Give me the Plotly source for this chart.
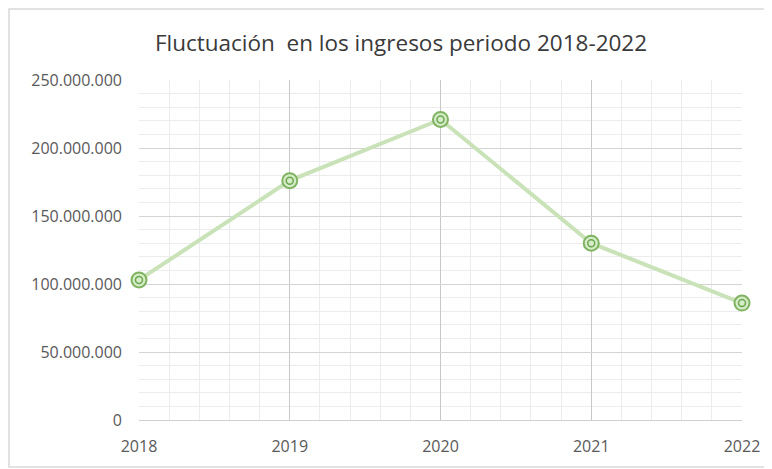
import plotly.graph_objects as go

years = [2018, 2019, 2020, 2021, 2022]
ingresos = [103000000, 176000000, 221000000, 130000000, 86000000]
y_ticks = [0, 50000000, 100000000, 150000000, 200000000, 250000000]
title_text = "Fluctuación  en los ingresos periodo 2018-2022"

# the page body adds an 8px offset; size the figure to fit inside the window
OFF = 8
W, H = 772 - OFF, 469 - OFF
ml, mr, mt, mb = 139 - OFF, 30, 80 - OFF, 49
pw, ph = W - ml - mr, H - mt - mb

fig = go.Figure()
fig.add_trace(go.Scatter(
    x=years, y=ingresos, mode="lines+markers",
    line=dict(color="#c9e2b8", width=4),
    marker=dict(symbol="circle", size=15, color="#d6ebc8",
                line=dict(color="#7fb35f", width=2)),
    hoverinfo="skip", showlegend=False, cliponaxis=False,
))
fig.add_trace(go.Scatter(
    x=years, y=ingresos, mode="markers",
    marker=dict(symbol="circle-open", size=7, color="#6aa84f",
                line=dict(color="#6aa84f", width=1.5)),
    hoverinfo="skip", showlegend=False, cliponaxis=False,
))

fig.update_layout(
    width=W, height=H,
    margin=dict(l=ml, r=mr, t=mt, b=mb),
    paper_bgcolor="white", plot_bgcolor="white",
    separators=",.",
    font=dict(family="Open Sans, Liberation Sans, sans-serif", color="#595959", size=16),
    title=dict(text=title_text, x=(401 - OFF) / W, xanchor="center",
               y=1 - (43 - OFF) / H, yanchor="middle",
               font=dict(size=22.5, color="#3a3a3a", family="Open Sans, sans-serif")),
    xaxis=dict(
        range=[2018, 2022], tickmode="array", tickvals=years,
        ticktext=[str(y) for y in years],
        showgrid=True, gridcolor="#c8c8c8", gridwidth=1,
        minor=dict(dtick=0.2, tick0=2018, showgrid=True, gridcolor="#ececec", gridwidth=1),
        showline=True, linecolor="#d0d0d0", linewidth=1,
        zeroline=False, ticks="", ticklabelstandoff=12,
        tickfont=dict(size=16, color="#595959"),
    ),
    yaxis=dict(
        range=[0, 250000000], tickmode="array", tickvals=y_ticks,
        tickformat=",d",
        showgrid=True, gridcolor="#d4d4d4", gridwidth=1,
        minor=dict(dtick=10000000, tick0=0, showgrid=True, gridcolor="#ececec", gridwidth=1),
        showline=False, zeroline=False, ticks="", ticklabelstandoff=16,
        tickfont=dict(size=16, color="#595959"),
    ),
    shapes=[dict(
        type="rect", xref="paper", yref="paper",
        x0=(1 - ml) / pw, x1=(W - 2 - ml) / pw,
        y0=(mt + ph - (H - 2)) / ph, y1=(mt + ph - 1) / ph,
        line=dict(color="#d9d9d9", width=1.5), fillcolor="rgba(0,0,0,0)",
        layer="below",
    )],
)

fig.write_html("out.html")
